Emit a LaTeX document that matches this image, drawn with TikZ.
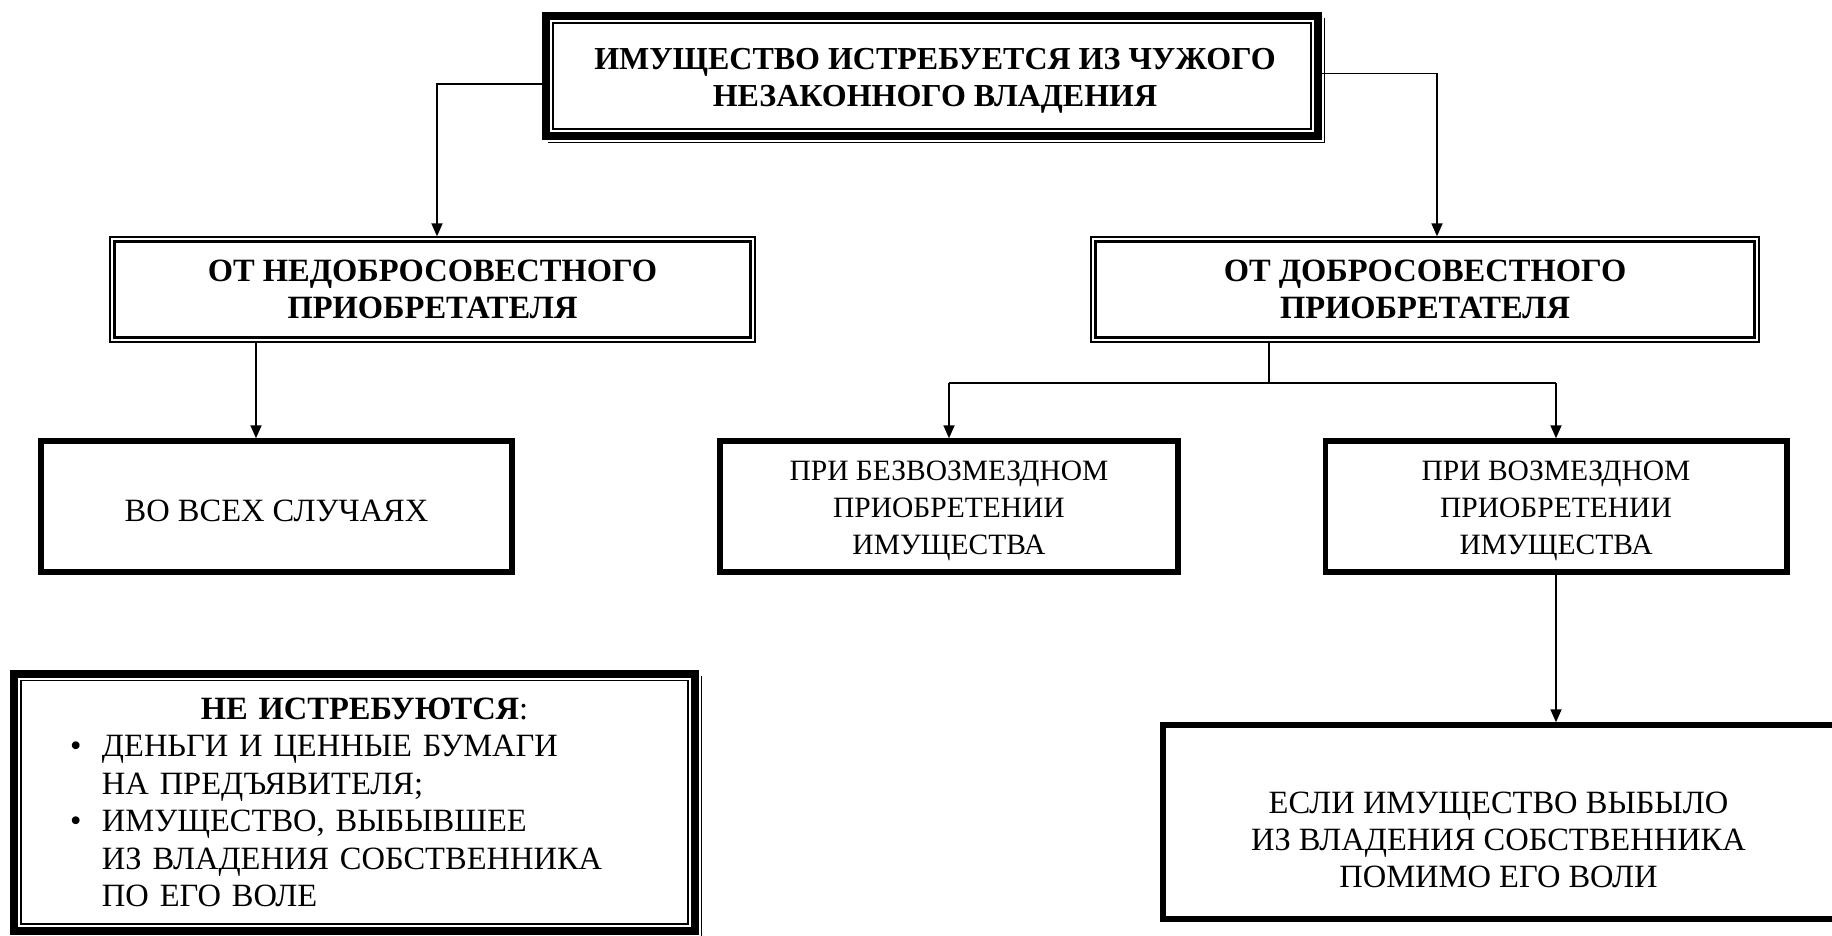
\documentclass[tikz,border=0pt]{standalone}
\usepackage{fontspec}
\setmainfont{Liberation Serif}
\usetikzlibrary{arrows.meta}
\begin{document}
\begin{tikzpicture}[x=1pt,y=-1pt,
  conn/.style={line width=1.8pt},
  arr/.style={conn,-{Triangle[length=13pt,width=11pt]}},
  boldtxt/.style={font=\bfseries\fontsize{32.5}{37}\selectfont, align=center, inner sep=0pt},
  normtxt/.style={font=\fontsize{32.5}{37}\selectfont, align=center, inner sep=0pt},
  smalltxt/.style={font=\fontsize{29.5}{37}\selectfont, align=center, inner sep=0pt},
  framebox/.style={draw, line width=8pt, inner sep=0pt},
  dblbox/.style={draw, line width=1.3pt, inner sep=0pt},
  thickbox/.style={draw, line width=5.5pt, inner sep=0pt},
]
\useasboundingbox (0,0) rectangle (1832,936);

% top box
\node[framebox, minimum width=772pt, minimum height=120pt] (top) at (932,76) {};
\node[boldtxt, font=\bfseries\fontsize{32}{37}\selectfont] (topT) at ([xshift=3pt,yshift=-5pt]top.center)
  {ИМУЩЕСТВО ИСТРЕБУЕТСЯ ИЗ ЧУЖОГО\\НЕЗАКОННОГО ВЛАДЕНИЯ};
\draw[line width=1.3pt] ([xshift=11pt,yshift=-11pt]top.north west) rectangle ([xshift=-11pt,yshift=11pt]top.south east);
\draw[line width=1.2pt] ([xshift=2.5pt,yshift=-6pt]top.north east) -- ([xshift=2.5pt,yshift=-2.5pt]top.south east) -- ([xshift=6pt,yshift=-2.5pt]top.south west);

% second level
\node[dblbox, boldtxt, minimum width=645pt, minimum height=105pt] (nd) at (432.5,289.5)
  {ОТ НЕДОБРОСОВЕСТНОГО\\ПРИОБРЕТАТЕЛЯ};
\draw[line width=3pt] ([xshift=5.5pt,yshift=-5.5pt]nd.north west) rectangle ([xshift=-5.5pt,yshift=5.5pt]nd.south east);
\node[dblbox, boldtxt, minimum width=668pt, minimum height=105pt] (d) at (1425,289.5)
  {ОТ ДОБРОСОВЕСТНОГО\\ПРИОБРЕТАТЕЛЯ};
\draw[line width=3pt] ([xshift=5.5pt,yshift=-5.5pt]d.north west) rectangle ([xshift=-5.5pt,yshift=5.5pt]d.south east);

% third level
\node[thickbox, minimum width=471pt, minimum height=131pt] (vse) at (276.5,506.5) {};
\node[normtxt] (vseT) at ([yshift=-4.5pt]vse.center) {ВО ВСЕХ СЛУЧАЯХ};
\node[thickbox, minimum width=458pt, minimum height=131pt] (bez) at (949,506.5) {};
\node[smalltxt] (bezT) at ([yshift=-4.5pt]bez.center) {ПРИ БЕЗВОЗМЕЗДНОМ\\ПРИОБРЕТЕНИИ\\ИМУЩЕСТВА};
\node[thickbox, minimum width=461.5pt, minimum height=131pt] (voz) at (1556,506.5) {};
\node[smalltxt] (vozT) at ([yshift=-4.5pt]voz.center) {ПРИ ВОЗМЕЗДНОМ\\ПРИОБРЕТЕНИИ\\ИМУЩЕСТВА};

% fourth level
\node[thickbox, minimum width=677pt, minimum height=194pt] (esli) at (1501.5,822) {};
\node[normtxt] (esliT) at ([xshift=-3pt,yshift=-18pt]esli.center)
  {ЕСЛИ ИМУЩЕСТВО ВЫБЫЛО\\ИЗ ВЛАДЕНИЯ СОБСТВЕННИКА\\ПОМИМО ЕГО ВОЛИ};

\node[framebox, font=\fontsize{32.5}{37.5}\selectfont, minimum width=681pt, minimum height=257.5pt,
      text width=569pt, align=left] (ne) at (354.5,802.25)
  {\makebox[569pt]{\hspace*{20pt}\textbf{НЕ ИСТРЕБУЮТСЯ}:}\\
   \makebox[32pt][l]{\textbullet}ДЕНЬГИ И ЦЕННЫЕ БУМАГИ\\
   \hspace*{32pt}НА ПРЕДЪЯВИТЕЛЯ;\\
   \makebox[32pt][l]{\textbullet}ИМУЩЕСТВО, ВЫБЫВШЕЕ\\
   \hspace*{32pt}ИЗ ВЛАДЕНИЯ СОБСТВЕННИКА\\
   \hspace*{32pt}ПО ЕГО ВОЛЕ};
\draw[line width=1.3pt] ([xshift=11pt,yshift=-11pt]ne.north west) rectangle ([xshift=-11pt,yshift=11pt]ne.south east);
\draw[line width=1.2pt] ([xshift=2.5pt,yshift=-6pt]ne.north east) -- ([xshift=2.5pt,yshift=-2.5pt]ne.south east) -- ([xshift=6pt,yshift=-2.5pt]ne.south west);

% connectors
\coordinate (tl) at (0,84);
\coordinate (tr) at (0,73.6);
\draw[arr] (top.west |- tl) -| ([xshift=4.5pt]nd.north);
\draw[arr] (top.east |- tr) -| ([xshift=12pt]d.north);

\coordinate (a1) at (256,0);
\draw[arr] (nd.south -| a1) -- (vse.north -| a1);

\coordinate (sp) at (1269,383);
\draw[conn] (d.south -| sp) -- (sp);
\draw[conn] (sp) -- (sp -| bez.north);
\draw[conn] (sp) -- (sp -| voz.north);
\draw[arr] (sp -| bez.north) -- (bez.north);
\draw[arr] (sp -| voz.north) -- (voz.north);

\draw[arr] (voz.south) -- (voz.south |- esli.north);
\end{tikzpicture}
\end{document}
